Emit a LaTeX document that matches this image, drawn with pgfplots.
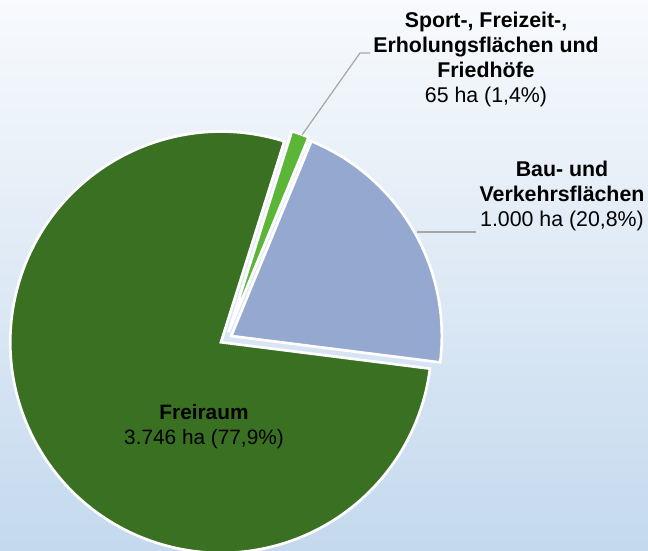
\documentclass[border=0pt]{standalone}
\usepackage{pgfplots}
\pgfplotsset{compat=1.18}
\usepackage{pgfplotstable}
\usepackage{fontspec}
\setmainfont{Liberation Sans}
\definecolor{frei}{RGB}{58,112,34}
\definecolor{bau}{RGB}{149,169,208}
\definecolor{sport}{RGB}{91,182,55}
\definecolor{bgtop}{RGB}{248,250,253}
\definecolor{bgbot}{RGB}{196,217,238}
\definecolor{lead}{RGB}{166,166,166}
\pgfplotstableread{
name value
Bau 1000
Sport 65
Frei 3746
}\piedata
\begin{document}
\begin{tikzpicture}
\pgfplotstablegetelem{0}{value}\of\piedata \let\vBau\pgfplotsretval
\pgfplotstablegetelem{1}{value}\of\piedata \let\vSport\pgfplotsretval
\pgfplotstablegetelem{2}{value}\of\piedata \let\vFrei\pgfplotsretval
\pgfmathsetmacro\tot{(\vBau+\vSport+\vFrei)/100}
\pgfmathsetmacro\aA{-7.2}
\pgfmathsetmacro\aB{\aA+3.6*(\vBau/\tot)}
\pgfmathsetmacro\aC{\aB+3.6*(\vSport/\tot)}
\pgfmathsetmacro\aD{\aC+3.6*(\vFrei/\tot)}
\pgfmathsetmacro\mA{(\aA+\aB)/2}
\pgfmathsetmacro\mB{(\aB+\aC)/2}
\pgfmathsetmacro\mC{(\aC+\aD)/2}
\begin{axis}[width=486pt, height=412.5pt, scale only axis,
  xmin=0, xmax=648, ymin=0, ymax=550, hide axis, clip=true]
\fill[top color=bgtop, bottom color=bgbot] (rel axis cs:0,0) rectangle (rel axis cs:1,1);
\addplot[draw=none] coordinates {(0,0) (648,550)};
\fill[bau, draw=white, line width=2pt, line join=miter, shift={(\mA:4.5pt)}]
  (axis cs:226,211) -- ++(\aA:158pt) arc[start angle=\aA, end angle=\aB, radius=158pt] -- cycle;
\fill[sport, draw=white, line width=2pt, line join=miter, shift={(\mB:5.5pt)}]
  (axis cs:226,211) -- ++(\aB:158pt) arc[start angle=\aB, end angle=\aC, radius=158pt] -- cycle;
\fill[frei, draw=white, line width=2pt, line join=miter, shift={(\mC:4.5pt)}]
  (axis cs:226,211) -- ++(\aC:158pt) arc[start angle=\aC, end angle=\aD, radius=158pt] -- cycle;
\draw[lead, line width=0.9pt] (axis cs:302,415) -- (axis cs:360,497) -- (axis cs:370,497);
\draw[lead, line width=0.9pt] (axis cs:417,318) -- (axis cs:476,318);
\node[align=center, inner sep=0pt, font=\fontsize{16}{18.75}\selectfont] at (axis cs:486,490.5)
  {\textbf{Sport-, Freizeit-,}\\\textbf{Erholungsflächen und}\\\textbf{Friedhöfe}\\65 ha (1,4\%)};
\node[align=center, inner sep=0pt, font=\fontsize{16}{18.75}\selectfont] at (axis cs:562,354.5)
  {\textbf{Bau- und}\\\textbf{Verkehrsflächen}\\1.000 ha (20,8\%)};
\node[align=center, inner sep=0pt, font=\fontsize{15.6}{18.75}\selectfont] at (axis cs:204,123)
  {\textbf{Freiraum}\\3.746 ha (77,9\%)};
\end{axis}
\end{tikzpicture}
\end{document}
